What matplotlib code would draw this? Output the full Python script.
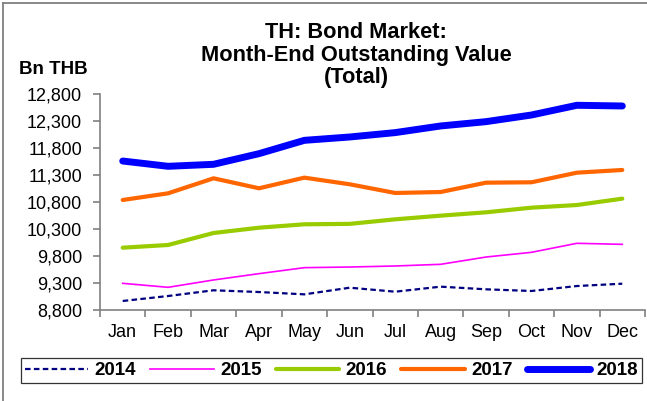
import numpy as np
import matplotlib
matplotlib.use("Agg")
import matplotlib.pyplot as plt
from matplotlib.lines import Line2D

plt.rcParams['font.family'] = ['Liberation Sans', 'DejaVu Sans']

# ----- data (Bn THB, month-end) -----
months = ["Jan", "Feb", "Mar", "Apr", "May", "Jun",
          "Jul", "Aug", "Sep", "Oct", "Nov", "Dec"]
v2014 = [8967, 9059, 9165, 9133, 9090, 9213, 9139, 9232, 9183, 9152, 9244, 9287]
v2015 = [9294, 9220, 9356, 9473, 9584, 9596, 9615, 9646, 9781, 9868, 10035, 10016]
v2016 = [9954, 10004, 10226, 10324, 10387, 10395, 10479, 10547, 10609, 10695, 10744, 10862]
v2017 = [10837, 10961, 11239, 11054, 11251, 11128, 10967, 10985, 11158, 11165, 11343, 11393]
v2018 = [11559, 11461, 11498, 11695, 11942, 12004, 12085, 12208, 12288, 12411, 12591, 12578]
yticks = [8800, 9300, 9800, 10300, 10800, 11300, 11800, 12300, 12800]
# ------------------------------------

W, H = 647, 401
fig = plt.figure(figsize=(W / 100, H / 100), dpi=100)
ax = fig.add_axes([100 / W, 1 - 310 / H, 545 / W, 216 / H])

x = np.arange(len(months))
l14, = ax.plot(x, v2014, color="#000080", lw=1.6, linestyle=(0, (2.5, 1.5)))
l15, = ax.plot(x, v2015, color="#FF00FF", lw=1.2)
l16, = ax.plot(x, v2016, color="#99CC00", lw=3, solid_capstyle="round")
l17, = ax.plot(x, v2017, color="#FF6600", lw=3, solid_capstyle="round")
l18, = ax.plot(x, v2018, color="#0000FF", lw=5, solid_capstyle="round")

ax.set_xlim(-0.5, len(months) - 0.5)
ax.set_ylim(yticks[0], yticks[-1])
ax.set_yticks(yticks)
ax.set_yticklabels([f"{v:,}" for v in yticks])
ax.set_xticks(x)
ax.set_xticklabels(months)
ax.set_xticks(np.arange(-0.5, len(months)), minor=True)

for side in ("top", "right"):
    ax.spines[side].set_visible(False)
for side in ("left", "bottom"):
    ax.spines[side].set_color("#808080")
    ax.spines[side].set_linewidth(1.2)

ax.tick_params(axis="y", length=5, width=1.2, color="#808080", pad=8, labelsize=13)
ax.tick_params(axis="x", which="major", length=0, pad=10, labelsize=13)
ax.tick_params(axis="x", which="minor", length=5, width=1.2, color="#808080")

fig.text(356 / W, 1 - 55 / H,
         "TH: Bond Market:\nMonth-End Outstanding Value\n(Total)",
         ha="center", va="center", fontsize=15.7, fontweight="bold",
         linespacing=1.1)
fig.text(19 / W, 1 - 70 / H, "Bn THB", ha="left", va="center",
         fontsize=13.5, fontweight="bold")

leg = fig.legend([l14, l15, l16, l17, l18],
                 ["2014", "2015", "2016", "2017", "2018"],
                 loc="center", bbox_to_anchor=(331.5 / W, 1 - 370.5 / H),
                 ncol=5, prop={"size": 13.5, "weight": "bold"},
                 handlelength=3.4, handletextpad=0.33, columnspacing=0.75,
                 borderpad=0.2, fancybox=False, frameon=True)
leg.get_frame().set_edgecolor("black")
leg.get_frame().set_linewidth(0.9)

# outer frame edges
fig.add_artist(Line2D([3 / W, 3 / W], [0, 1 - 3 / H], color="#808080", lw=1.3))
fig.add_artist(Line2D([3 / W, 1], [1 - 3 / H, 1 - 3 / H], color="#808080", lw=1.3))

fig.savefig("out.png", dpi=100)
